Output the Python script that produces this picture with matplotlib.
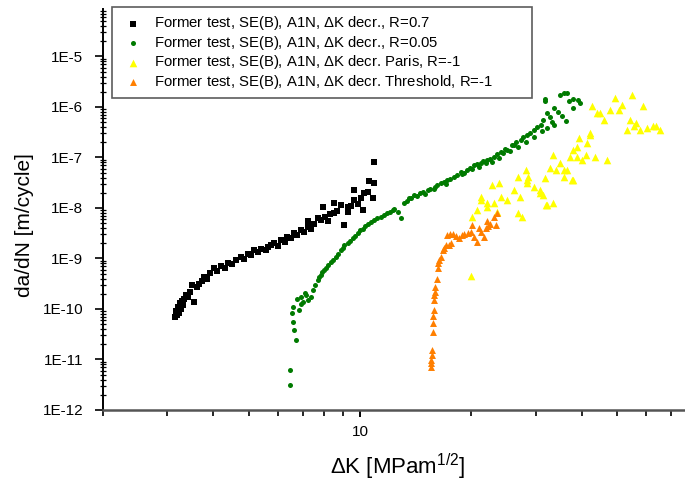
import numpy as np
import matplotlib
matplotlib.use('Agg')
import matplotlib.pyplot as plt
from matplotlib.ticker import FixedLocator, NullFormatter, FuncFormatter, LogLocator

plt.rcParams['font.family'] = ['Liberation Sans', 'DejaVu Sans']
plt.rcParams['mathtext.fontset'] = 'custom'
plt.rcParams['mathtext.rm'] = 'Liberation Sans'
plt.rcParams['mathtext.default'] = 'regular'

# --- data: dK [MPa m^1/2], da/dN [m/cycle] ---
blk_dk = [3.15, 3.17, 3.18, 3.2, 3.22, 3.24, 3.26, 3.28, 3.3, 3.33, 3.36, 3.4, 3.45, 3.49,
          3.55, 3.6, 3.65, 3.72, 3.78, 3.85, 3.92, 4.02, 4.08, 4.2, 4.3, 4.39, 4.5, 4.6,
          4.76, 4.85, 4.95, 5.05, 5.16, 5.3, 5.4, 5.55, 5.63, 5.75, 5.85, 6.0, 6.11, 6.25,
          6.35, 6.5, 6.63, 6.75, 6.9, 7.05, 7.22, 7.23, 7.35, 7.5, 7.68, 7.84, 7.93, 8.05,
          8.17, 8.3, 8.5, 8.52, 8.65, 8.88, 9.07, 9.26, 9.28, 9.45, 9.65, 9.65, 9.85, 10.06,
          10.17, 10.27, 10.49, 10.6, 10.82, 10.93, 10.93]
blk_dadn = [7.0e-11, 9.0e-11, 7.6e-11, 1.1e-10, 8.5e-11, 1.3e-10, 1.0e-10, 1.45e-10, 1.2e-10,
            1.6e-10, 1.9e-10, 1.7e-10, 2.2e-10, 3.0e-10, 1.35e-10, 2.7e-10, 3.1e-10, 3.6e-10,
            4.3e-10, 4.0e-10, 5.2e-10, 6.5e-10, 5.6e-10, 7.2e-10, 6.6e-10, 8.1e-10, 7.6e-10,
            9.3e-10, 1.07e-9, 9.6e-10, 1.25e-9, 1.15e-9, 1.47e-9, 1.35e-9, 1.57e-9, 1.45e-9,
            1.69e-9, 1.85e-9, 2.0e-9, 1.8e-9, 2.32e-9, 2.1e-9, 2.7e-9, 2.5e-9, 3.2e-9, 2.9e-9,
            3.6e-9, 3.3e-9, 5.4e-9, 4.2e-9, 3.8e-9, 4.9e-9, 6.2e-9, 5.8e-9, 1.06e-8, 6.5e-9,
            5.4e-9, 7.5e-9, 7.9e-9, 1.24e-8, 8.6e-9, 1.15e-8, 4.6e-9, 8.5e-9, 1.05e-8, 1.1e-8,
            1.44e-8, 2.27e-8, 1.2e-8, 1.57e-8, 9.1e-9, 1.94e-8, 2.1e-8, 3.35e-8, 1.57e-8,
            3.1e-8, 8.3e-8]

grn_dk = [6.47, 6.47, 6.71, 6.64, 6.57, 6.53, 6.57, 6.85, 7.0, 7.22, 7.14, 7.37, 6.93, 6.75,
          7.08, 6.9, 7.45, 7.55, 7.68, 7.75, 7.84, 7.9, 8.0, 8.1, 8.17, 8.34, 8.45, 8.6, 8.7,
          8.88, 9.0, 9.07, 9.26, 9.4, 9.56, 9.7, 9.86, 10.0, 10.17, 10.3, 10.49, 10.7, 10.93,
          11.1, 11.4, 11.6, 11.88, 12.05, 12.27, 12.4, 12.65, 12.91, 13.18, 13.4, 13.6, 13.8,
          14.03, 14.3, 14.6, 14.8, 15.0, 15.26, 15.5, 15.87, 16.0, 16.2, 16.58, 16.9, 17.1,
          17.29, 17.6, 18.02, 18.4, 18.78, 18.9, 19.2, 19.58, 19.9, 20.2, 20.4, 20.8, 21.0,
          21.28, 21.6, 22.0, 22.2, 22.6, 22.9, 23.12, 23.5, 23.9, 24.11, 24.5, 24.8, 25.13,
          25.5, 25.9, 26.2, 26.5, 26.8, 27.32, 27.8, 28.2, 28.5, 29.0, 29.68, 29.7, 30.3,
          30.94, 31.2, 31.5, 31.9, 31.9, 32.27, 32.3, 32.8, 33.2, 33.6, 33.6, 34.5, 35.05,
          35.5, 35.8, 36.2, 36.5, 37.0, 38.0, 38.0, 39.2, 39.7]
grn_dadn = [3.1e-12, 6.2e-12, 2.43e-11, 3.84e-11, 5.6e-11, 8.2e-11, 1.1e-10, 9.5e-11, 1.4e-10,
            1.5e-10, 1.9e-10, 1.75e-10, 1.75e-10, 1.6e-10, 2.1e-10, 1.25e-10, 2.4e-10, 3.0e-10,
            3.75e-10, 4.2e-10, 4.7e-10, 5.3e-10, 5.9e-10, 6.5e-10, 7.4e-10, 8.6e-10, 9.5e-10,
            1.08e-9, 1.25e-9, 1.47e-9, 1.6e-9, 1.85e-9, 2.0e-9, 2.2e-9, 2.5e-9, 2.8e-9, 3.2e-9,
            3.6e-9, 3.9e-9, 4.3e-9, 4.9e-9, 5.3e-9, 5.8e-9, 6.2e-9, 6.7e-9, 7.2e-9, 7.8e-9,
            8.5e-9, 9.1e-9, 9.6e-9, 8.5e-9, 6.3e-9, 1.24e-8, 1.4e-8, 1.57e-8, 1.6e-8, 1.81e-8,
            1.75e-8, 1.94e-8, 2.1e-8, 1.9e-8, 2.27e-8, 2.4e-8, 2.4e-8, 2.6e-8, 2.9e-8, 3.1e-8,
            3.3e-8, 3.0e-8, 3.58e-8, 3.8e-8, 4.17e-8, 4.5e-8, 5.2e-8, 4.8e-8, 5.0e-8, 5.65e-8,
            6.3e-8, 5.9e-8, 7.1e-8, 7.4e-8, 6.6e-8, 7.6e-8, 8.6e-8, 7.8e-8, 8.9e-8, 9.5e-8,
            8.2e-8, 1.04e-7, 1.15e-7, 9.8e-8, 1.3e-7, 1.25e-7, 1.5e-7, 1.41e-7, 1.35e-7, 1.75e-7,
            1.77e-7, 2.0e-7, 1.6e-7, 2.22e-7, 2.5e-7, 2.0e-7, 2.79e-7, 3.0e-7, 3.5e-7, 2.5e-7,
            4.0e-7, 4.4e-7, 3.4e-7, 5.5e-7, 1.45e-6, 1.3e-6, 7.5e-7, 3.75e-7, 6.2e-7, 5.0e-7,
            9.4e-7, 4.4e-7, 7.8e-7, 1.73e-6, 6.5e-7, 1.9e-6, 5.3e-7, 1.87e-6, 1.3e-6, 1.45e-6,
            9.4e-7, 1.35e-6, 1.2e-6]

yel_dk = [20.0, 20.1, 20.8, 21.3, 21.3, 22.2, 22.2, 23.1, 23.6, 24.1, 22.9, 23.8, 25.1, 26.2,
          26.8, 27.6, 27.3, 26.8, 28.2, 28.7, 28.5, 28.5, 29.7, 30.9, 30.9, 31.5, 32.0, 32.3,
          31.9, 33.4, 33.4, 32.9, 34.0, 35.0, 35.8, 35.8, 36.5, 37.6, 38.0, 37.3, 38.0, 38.8,
          38.8, 40.1, 41.0, 39.3, 41.4, 42.3, 42.3, 43.6, 46.8, 42.7, 44.1, 45.0, 45.9, 47.9,
          49.4, 50.4, 51.5, 54.2, 54.8, 58.9, 53.3, 55.4, 57.7, 60.1, 62.6, 65.4, 56.4, 63.9]
yel_dadn = [4.4e-10, 6.7e-9, 9.1e-9, 1.44e-8, 1.68e-8, 1.06e-8, 1.24e-8, 1.24e-8, 8.5e-9,
            1.68e-8, 2.85e-8, 3.1e-8, 1.44e-8, 2.27e-8, 7.8e-9, 6.7e-9, 1.68e-8, 4.17e-8,
            5.65e-8, 4.17e-8, 3.1e-8, 3.58e-8, 2.6e-8, 2.27e-8, 2.0e-8, 1.81e-8, 1.15e-8,
            1.15e-8, 3.9e-8, 1.12e-7, 1.24e-8, 6.1e-8, 5.65e-8, 7.6e-8, 4.17e-8, 5.65e-8,
            5.65e-8, 3.58e-8, 3.58e-8, 1.04e-7, 1.41e-7, 1.64e-7, 1.04e-7, 8.9e-8, 1.12e-7,
            2.4e-7, 1.9e-7, 2.79e-7, 3.0e-7, 1.04e-7, 8.9e-8, 1.02e-6, 7.5e-7, 7.5e-7, 5.5e-7,
            8.7e-7, 1.5e-6, 8.7e-7, 1.1e-6, 5.5e-7, 1.73e-6, 1.02e-6, 3.5e-7, 4.1e-7, 3.5e-7,
            3.75e-7, 4.1e-7, 3.5e-7, 4.7e-7, 4.1e-7]

org_dk = [15.57, 15.6, 15.62, 15.67, 15.72, 15.77, 15.8, 15.82, 15.87, 15.93, 15.93, 15.97,
          16.0, 16.15, 16.27, 16.33, 16.4, 16.58, 16.8, 16.93, 17.11, 17.45, 17.65, 17.29,
          17.55, 17.85, 18.2, 18.6, 18.9, 19.2, 19.6, 20.0, 20.4, 20.8, 20.2, 21.0, 21.3,
          21.7, 21.96, 22.2, 22.6, 23.1, 23.6, 23.4, 22.3]
org_dadn = [7.2e-12, 8.5e-12, 9.8e-12, 1.23e-11, 1.54e-11, 3.55e-11, 5.2e-11, 7.1e-11, 9.5e-11,
            1.51e-10, 1.89e-10, 2.2e-10, 2.75e-10, 4.0e-10, 6.4e-10, 8.0e-10, 9.3e-10, 1.08e-9,
            1.47e-9, 1.6e-9, 1.85e-9, 1.85e-9, 2.0e-9, 2.9e-9, 3.0e-9, 3.1e-9, 2.75e-9, 2.5e-9,
            2.9e-9, 3.1e-9, 3.15e-9, 3.4e-9, 2.65e-9, 2.15e-9, 4.6e-9, 4.1e-9, 3.4e-9, 2.65e-9,
            4.0e-9, 5.4e-9, 4.8e-9, 6.7e-9, 7.8e-9, 4.6e-9, 4.3e-9]

labels = ['Former test, SE(B), A1N, $\\Delta$K decr., R=0.7',
          'Former test, SE(B), A1N, $\\Delta$K decr., R=0.05',
          'Former test, SE(B), A1N, $\\Delta$K decr. Paris, R=-1',
          'Former test, SE(B), A1N, $\\Delta$K decr. Threshold, R=-1']

fig = plt.figure(figsize=(6.85, 4.82), dpi=100)
ax = fig.add_axes([0.1499, 0.1494, 0.8501, 0.8320])

ax.scatter(blk_dk, blk_dadn, marker='s', s=16, c='#000000', linewidths=0, label=labels[0])
ax.scatter(grn_dk, grn_dadn, marker='o', s=13, c='#007a00', linewidths=0, label=labels[1])
ax.scatter(yel_dk, yel_dadn, marker='^', s=30, c='#ffff00', linewidths=0, label=labels[2])
ax.scatter(org_dk, org_dadn, marker='^', s=25, c='#ff7f00', linewidths=0, label=labels[3])

ax.set_xscale('log')
ax.set_yscale('log')
ax.set_xlim(2.0, 76.4)
ax.set_ylim(1e-12, 8.7e-5)

ax.xaxis.set_major_locator(FixedLocator([10]))
ax.xaxis.set_major_formatter(FuncFormatter(lambda v, p: '%d' % v))
ax.xaxis.set_minor_locator(FixedLocator([2, 3, 4, 5, 6, 7, 8, 9, 20, 30, 40, 50, 60, 70]))
ax.xaxis.set_minor_formatter(NullFormatter())

ax.yaxis.set_major_locator(FixedLocator([10.0 ** k for k in range(-12, -4)]))
ax.yaxis.set_major_formatter(FuncFormatter(lambda v, p: '1E%d' % round(np.log10(v))))
ax.yaxis.set_minor_locator(LogLocator(base=10, subs=np.arange(2, 10), numticks=30))
ax.yaxis.set_minor_formatter(NullFormatter())

for side in ['top', 'right']:
    ax.spines[side].set_visible(False)
ax.spines['left'].set_linewidth(1.4)
ax.spines['bottom'].set_linewidth(1.8)
ax.spines['bottom'].set_color('#555555')

ax.tick_params(axis='y', which='major', direction='out', length=6, width=1.2, labelsize=11, pad=8)
ax.tick_params(axis='y', which='minor', direction='inout', length=4, width=0.9)
ax.tick_params(axis='x', which='major', direction='out', length=5, width=1.4, labelsize=11, pad=6)
ax.tick_params(axis='x', which='minor', direction='out', length=4, width=1.2)

# axis titles placed where they sit in the original
fig.text(398 / 685, 1 - 474 / 482, '$\\Delta$K [MPam$^{1/2}$]', fontsize=16,
         ha='center', va='baseline')
fig.text(24 / 685, 1 - 225 / 482, 'da/dN [m/cycle]', fontsize=15, rotation=90,
         ha='center', va='center')

leg = ax.legend(loc='upper left', bbox_to_anchor=(112 / 685, 1 - 7 / 482, 420 / 685, 0),
                bbox_transform=fig.transFigure, mode='expand', borderaxespad=0,
                fontsize=10.7, handlelength=1.8, handletextpad=0.5, labelspacing=0.1,
                fancybox=False, frameon=True, borderpad=0.5, scatterpoints=1)
leg.get_frame().set_edgecolor('#333333')
leg.get_frame().set_linewidth(1.2)

fig.savefig('out.png', dpi=100)
